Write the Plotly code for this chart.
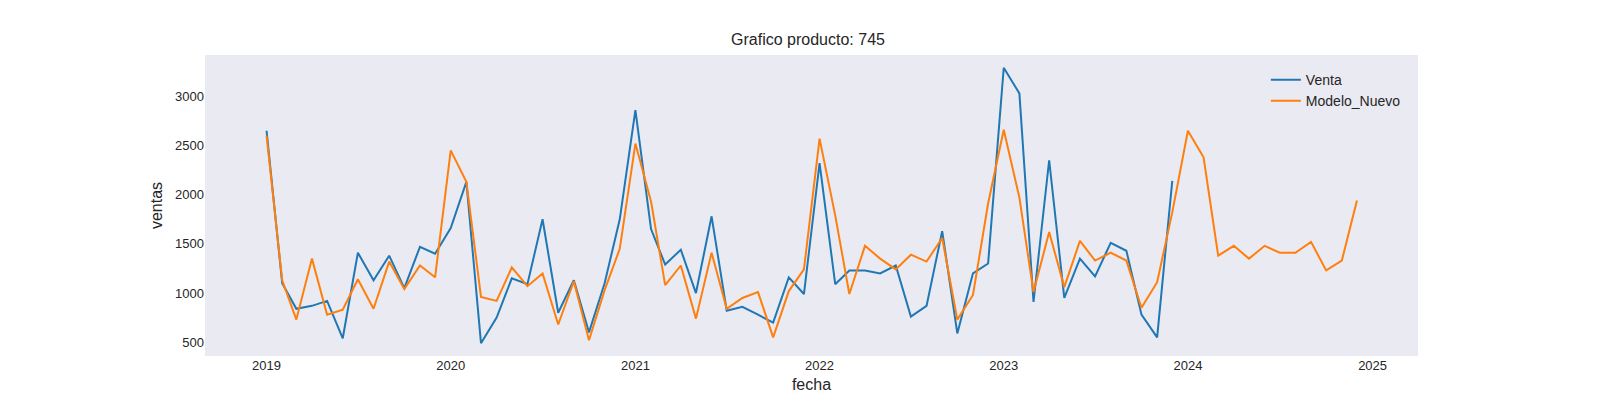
import pandas as pd
import plotly.graph_objects as go

fechas_venta = pd.date_range("2019-01-01", periods=60, freq="MS")
fechas_modelo = pd.date_range("2019-01-01", periods=72, freq="MS")

venta = [
    2650, 1100, 840, 870, 920, 540, 1410, 1130, 1380, 1050, 1470, 1400,
    1660, 2130, 490, 750, 1150, 1090, 1750, 800, 1130, 600, 1100, 1750,
    2860, 1650, 1290, 1440, 1000, 1780, 820, 860, 780, 700, 1160, 990,
    2320, 1090, 1230, 1230, 1200, 1280, 760, 870, 1630, 590, 1200, 1300,
    3290, 3030, 910, 2350, 950, 1350, 1170, 1510, 1430, 780, 550, 2140,
]
modelo_nuevo = [
    2600, 1130, 730, 1350, 780, 830, 1140, 840, 1320, 1040, 1280, 1160,
    2450, 2130, 960, 920, 1260, 1070, 1200, 680, 1120, 520, 1030, 1450,
    2520, 1930, 1080, 1280, 740, 1410, 840, 950, 1010, 550, 1020, 1240,
    2570, 1790, 990, 1480, 1350, 1240, 1390, 1320, 1560, 730, 980, 1910,
    2660, 1970, 1010, 1620, 1060, 1530, 1330, 1410, 1330, 850, 1110, 1820,
    2650, 2380, 1380, 1480, 1350, 1480, 1410, 1410, 1520, 1230, 1330, 1940,
]

fig = go.Figure()
fig.add_trace(go.Scatter(x=fechas_venta, y=venta, mode="lines", name="Venta",
                         line=dict(color="#1f77b4", width=2)))
fig.add_trace(go.Scatter(x=fechas_modelo, y=modelo_nuevo, mode="lines", name="Modelo_Nuevo",
                         line=dict(color="#ff7f0e", width=2)))

fig.update_layout(
    width=1600, height=400,
    paper_bgcolor="white", plot_bgcolor="#EAEAF2",
    font=dict(family="Liberation Sans, Arial", size=13, color="#262626"),
    title=dict(text="Grafico producto: 745", x=0.5, xanchor="center", y=0.935, font=dict(size=16)),
    margin=dict(l=197, r=190, t=47, b=52),
    xaxis=dict(title=dict(text="fecha", standoff=6), showgrid=False, zeroline=False,
               range=["2018-09-01", "2025-04-01"],
               tickvals=pd.date_range("2019-01-01", periods=7, freq="YS"), tickformat="%Y"),
    yaxis=dict(title=dict(text="ventas", standoff=8), showgrid=False, zeroline=False,
               range=[360, 3420], tickvals=[500, 1000, 1500, 2000, 2500, 3000]),
    legend=dict(x=0.99, y=0.97, xanchor="right", yanchor="top", bgcolor="rgba(0,0,0,0)",
                font=dict(size=14)),
)

fig.write_html("out.html")
